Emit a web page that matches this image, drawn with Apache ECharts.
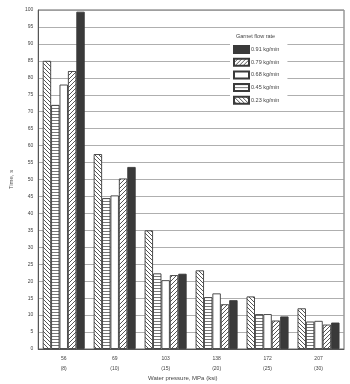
<!DOCTYPE html>
<html>
<head>
<meta charset="utf-8">
<script src="https://cdn.jsdelivr.net/npm/echarts@6/dist/echarts.min.js"></script>
<style>
  html, body { margin: 0; padding: 0; background: #fff; }
  #chart { width: 350px; height: 384px; }
</style>
</head>
<body>
<div id="chart"></div>
<script>
// Water pressure categories: MPa with ksi in brackets
const pressureMPa = ['56', '69', '103', '138', '172', '207'];
const pressureKsi = ['8', '10', '15', '20', '25', '30'];

// Cutting time (s) for each garnet flow rate
const rate023 = [85, 57.5, 35, 23.2, 15.5, 12];
const rate045 = [72, 44.5, 22.3, 15.3, 10.3, 8.1];
const rate068 = [78, 45.3, 20.3, 16.4, 10.3, 8.3];
const rate079 = [82, 50.3, 21.8, 13.2, 8.4, 7.2];
const rate091 = [99.5, 53.7, 22.2, 14.4, 9.6, 7.8];

const seriesNames = ['0.23 kg/min', '0.45 kg/min', '0.68 kg/min', '0.79 kg/min', '0.91 kg/min'];
const legendOrder = ['0.91 kg/min', '0.79 kg/min', '0.68 kg/min', '0.45 kg/min', '0.23 kg/min'];

const yTicks = { min: 0, max: 100, step: 5 };

const FONT = 'Liberation Sans';
const INK = '#3a3a3a';

// Small repeating tiles for the hatched fills
function makeTile(kind) {
  const c = document.createElement('canvas');
  const s = 4;
  c.width = s; c.height = kind === 'horiz' ? 3 : s;
  const g = c.getContext('2d');
  g.fillStyle = '#fff';
  g.fillRect(0, 0, c.width, c.height);
  g.strokeStyle = '#444';
  g.lineWidth = 0.9;
  if (kind === 'horiz') {
    g.fillStyle = '#777';
    g.fillRect(0, 0, c.width, 1);
  } else if (kind === 'back') {
    g.beginPath();
    g.moveTo(-1, -1); g.lineTo(s + 1, s + 1);
    g.moveTo(-1, s - 1); g.lineTo(1, s + 1);
    g.moveTo(s - 1, -1); g.lineTo(s + 1, 1);
    g.stroke();
  } else {
    g.beginPath();
    g.moveTo(-1, s + 1); g.lineTo(s + 1, -1);
    g.moveTo(-1, 1); g.lineTo(1, -1);
    g.moveTo(s - 1, s + 1); g.lineTo(s + 1, s - 1);
    g.stroke();
  }
  return { image: c, repeat: 'repeat' };
}

const fills = [
  makeTile('back'),
  makeTile('horiz'),
  '#ffffff',
  makeTile('fwd'),
  '#3a3a3a'
];
const dataSets = [rate023, rate045, rate068, rate079, rate091];

const chart = echarts.init(document.getElementById('chart'), null, { renderer: 'canvas' });

chart.setOption({
  animation: false,
  backgroundColor: '#ffffff',
  textStyle: { fontFamily: FONT },
  grid: {
    left: 36, right: 6, top: 10, bottom: 35,
    show: true, borderColor: '#666', borderWidth: 1, backgroundColor: 'transparent'
  },
  graphic: [
    {
      type: 'text', left: 236, top: 33, z: 100,
      style: { text: 'Garnet flow rate', font: '5.5px ' + FONT, fill: '#444' }
    },
    {
      type: 'text', left: 148, top: 375, z: 100,
      style: { text: 'Water pressure, MPa (ksi)', font: '6px ' + FONT, fill: '#444' }
    }
  ],
  legend: {
    data: legendOrder,
    orient: 'vertical',
    icon: 'rect',
    left: 230, top: 28,
    padding: [17, 8, 4, 3],
    backgroundColor: '#ffffff',
    itemWidth: 15, itemHeight: 7, itemGap: 3.7,
    textStyle: { fontSize: 5.5, color: '#444', fontFamily: FONT, padding: [0, 0, 0, -3] },
    z: 50
  },
  xAxis: {
    type: 'category',
    data: pressureMPa,
    axisLine: { lineStyle: { color: '#555', width: 1 } },
    axisTick: { show: false },
    axisLabel: {
      margin: 5,
      fontSize: 5,
      lineHeight: 10,
      color: '#444',
      formatter: (v, i) => v + '\n(' + pressureKsi[i] + ')'
    }
  },
  yAxis: {
    type: 'value',
    min: yTicks.min, max: yTicks.max, interval: yTicks.step,
    name: 'Time, s',
    nameLocation: 'middle',
    nameGap: 20,
    nameRotate: 90,
    nameTextStyle: { fontSize: 6, color: '#555' },
    axisLine: { show: true, lineStyle: { color: '#555', width: 1 } },
    axisTick: { show: false },
    axisLabel: { fontSize: 5, color: '#444', margin: 5 },
    splitLine: { lineStyle: { color: '#9a9a9a', width: 0.8 } }
  },
  series: seriesNames.map((name, i) => ({
    name: name,
    type: 'bar',
    data: dataSets[i],
    barWidth: 8.4,
    barGap: '0%',
    itemStyle: { color: fills[i], borderColor: INK, borderWidth: 0.9 }
  }))
});
</script>
</body>
</html>
